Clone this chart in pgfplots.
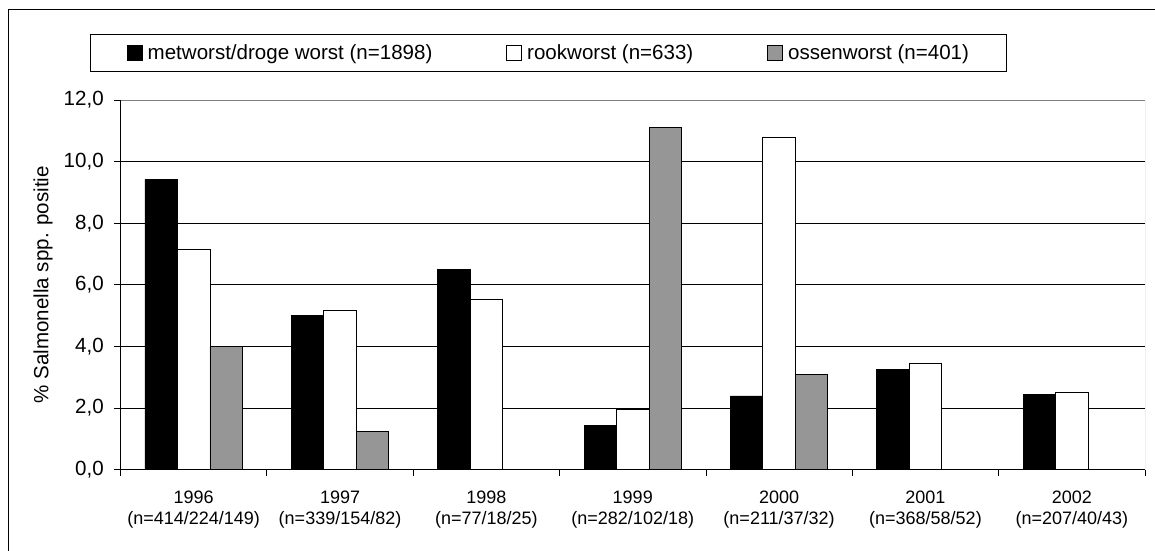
\documentclass[border=0pt]{standalone}
\usepackage{fontspec}
\setmainfont{Liberation Sans}
\usepackage{pgfplots}
\pgfplotsset{compat=1.18}
\definecolor{bargrey}{RGB}{150,150,150}
\definecolor{framegrey}{RGB}{128,128,128}

\pgfplotsset{
  sqlegend/.style={legend image code/.code={%
    \draw[##1, draw=black, line width=0.6pt] (0pt,-5.625pt) rectangle (11.25pt,5.625pt);}},
}

\begin{document}
\begin{tikzpicture}
\useasboundingbox (0,0) rectangle (866.25pt,-412.5pt);
% outer chart frame
\draw[line width=0.75pt] (6pt,-420pt) -- (6pt,-6.75pt) -- (870pt,-6.75pt);
\begin{axis}[
  at={(90.375pt,-352.125pt)}, anchor=south west,
  scale only axis, width=768.375pt, height=277.125pt,
  ybar, bar width=0.222,
  xmin=-0.5, xmax=6.5, ymin=0, ymax=12,
  xtick={-0.5,0.5,...,6.5}, xticklabels={},
  extra x ticks={0,1,2,3,4,5,6},
  extra x tick labels={
    {1996\\(n=414/224/149)},
    {1997\\(n=339/154/82)},
    {1998\\(n=77/18/25)},
    {1999\\(n=282/102/18)},
    {2000\\(n=211/37/32)},
    {2001\\(n=368/58/52)},
    {2002\\(n=207/40/43)}},
  extra x tick style={major tick length=0pt, tick style={draw=none}, xmajorgrids=false,
    xticklabel style={anchor=north, inner sep=0pt, yshift=-15.75pt, align=center,
      font=\fontsize{13.5}{15.75}\selectfont}},
  ytick={0,2,...,12},
  ymajorgrids, grid style={black, line width=0.6pt},
  tick align=outside, major tick length=5pt,
  tick style={black, line width=0.6pt},
  axis x line*=bottom, axis y line*=left,
  axis line style={black, line width=0.75pt, -},
  /pgf/number format/assume math mode=true,
  yticklabel style={font=\fontsize{15.4}{18}\selectfont, inner xsep=7.4pt,
    /pgf/number format/.cd, fixed, fixed zerofill, precision=1, use comma},
  ylabel={\% Salmonella spp. positie},
  ylabel style={at={(axis description cs:-0.0756,0.5)}, anchor=center,
    font=\fontsize{15.4}{18}\selectfont},
  legend columns=3, legend cell align=left,
  legend style={at={(-0.03026,1.17862)}, anchor=north west, draw=black,
    line width=0.6pt, inner xsep=27.75pt, inner ysep=7.4pt,
    font=\fontsize{15.4}{18}\selectfont, nodes={inner sep=0pt},
    /tikz/every odd column/.append style={column sep=3.75pt},
    /tikz/every even column/.append style={column sep=55.5pt}},
]
\addplot[sqlegend, fill=black, draw=black, line width=0.6pt, bar shift=-0.222]
  coordinates {(0,9.43) (1,4.99) (2,6.50) (3,1.43) (4,2.39) (5,3.26) (6,2.44)};
\addlegendentry{metworst/droge worst (n=1898)}
\addplot[sqlegend, fill=white, draw=black, line width=0.6pt, bar shift=0]
  coordinates {(0,7.15) (1,5.17) (2,5.53) (3,1.96) (4,10.80) (5,3.43) (6,2.52)};
\addlegendentry{rookworst (n=633)}
\addplot[sqlegend, fill=bargrey, draw=black, line width=0.6pt, bar shift=0.222]
  coordinates {(0,4.01) (1,1.23) (3,11.12) (4,3.10)};
\addlegendentry{ossenworst (n=401)}
% plot-area border on the top and right
\draw[framegrey, line width=0.75pt] (rel axis cs:0,1) -- (rel axis cs:1,1) -- (rel axis cs:1,0);
\end{axis}
\end{tikzpicture}
\end{document}
